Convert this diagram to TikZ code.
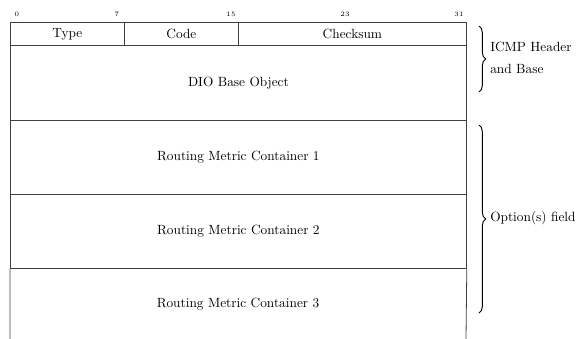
\documentclass[tikz,border=0pt]{standalone}
\usetikzlibrary{decorations.pathreplacing}
\begin{document}
\begin{tikzpicture}[x=0.75pt,y=-0.75pt,
  cell/.style={draw=black!75,line width=0.6pt,inner sep=0pt,anchor=north west},
  bitlbl/.style={font=\tiny,inner sep=0pt},
  field/.style={font=\normalsize,inner sep=0pt},
  brc/.style={decorate,decoration={brace,amplitude=5pt},line width=0.7pt},
  side/.style={font=\normalsize,align=left,anchor=west,inner sep=0pt}]
\useasboundingbox (0,0) rectangle (576,339);
% bit labels
\node[bitlbl] (b0) at (17,14) {0};
\node[bitlbl] (b7) at (117,14) {7};
\node[bitlbl] (b15) at (231,14) {15};
\node[bitlbl] (b23) at (345,14) {23};
\node[bitlbl] (b31) at (459,14) {31};
% header row
\node[cell,minimum width=114*0.75pt,minimum height=23*0.75pt] (type) at (10,22) {};
\node[cell,minimum width=114*0.75pt,minimum height=23*0.75pt] (code) at (124,22) {};
\node[cell,minimum width=228*0.75pt,minimum height=23*0.75pt] (cks) at (238,22) {};
\node[field] at (type.center) {Type};
\node[field] at (code.center) {Code};
\node[field] at (cks.center) {Checksum};
% DIO base
\node[cell,minimum width=456*0.75pt,minimum height=75*0.75pt] (dio) at (10,45) {};
\node[field] at (dio.center) {DIO Base Object};
\node[cell,minimum width=456*0.75pt,minimum height=74*0.75pt] (rmc1) at (10,120) {};
\node[field] at (rmc1.center) {Routing Metric Container 1};
\node[cell,minimum width=456*0.75pt,minimum height=74*0.75pt] (rmc2) at (10,194) {};
\node[field] at (rmc2.center) {Routing Metric Container 2};
\coordinate (r3bl) at (10,339);
\coordinate (r3br) at (466,339);
\draw[draw=black!75,line width=0.6pt] (r3bl) -- (rmc2.south west) (rmc2.south east) -- (r3br);
\node[field] (rmc3) at (238,304) {Routing Metric Container 3};
% braces
\coordinate (br1t) at (479,26);
\coordinate (br1b) at (479,92);
\draw[brc] (br1t) -- (br1b);
\node[side] (icmp) at (490,58) {ICMP Header\\[4pt]and Base};
\coordinate (br2t) at (479,125);
\coordinate (br2b) at (479,313);
\draw[brc] (br2t) -- (br2b);
\node[side] (opt) at (490,218) {Option(s) field};
\end{tikzpicture}
\end{document}
